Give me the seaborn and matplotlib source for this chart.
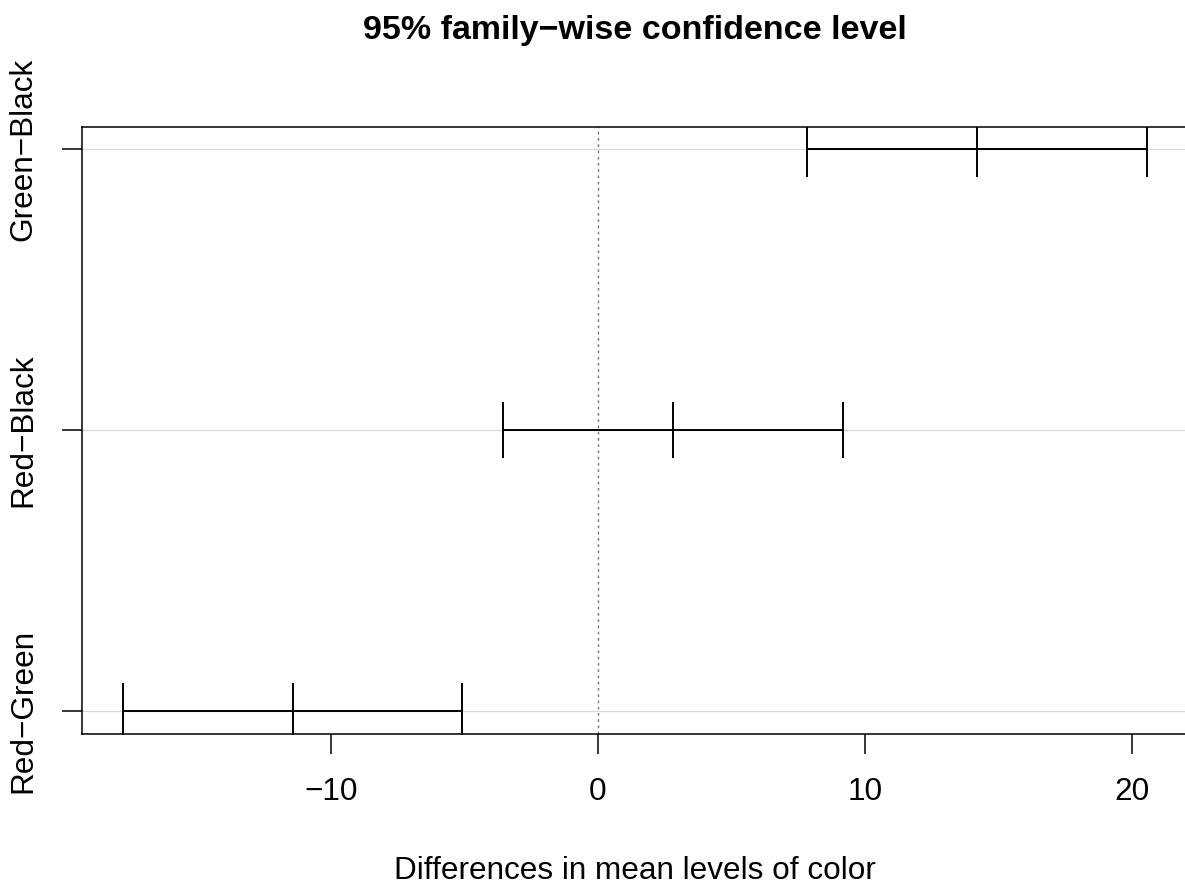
import matplotlib
matplotlib.use("Agg")
import matplotlib.pyplot as plt
import seaborn as sns
import pandas as pd
import numpy as np

# Data (TukeyHSD style)
comparisons = ["Green\u2212Black", "Red\u2212Black", "Red\u2212Green"]
diff = [14.19, 2.81, -11.42]
lwr = [7.83, -3.56, -17.79]
upr = [20.56, 9.18, -5.09]
xticks = [-10, 0, 10, 20]

title = "95% family\u2212wise confidence level"
xlabel = "Differences in mean levels of color"

sns.set_style("ticks")
plt.rcParams['font.family'] = ['Liberation Sans', 'DejaVu Sans']
plt.rcParams['text.color'] = 'black'
plt.rcParams['axes.labelcolor'] = 'black'
plt.rcParams['xtick.color'] = 'black'
plt.rcParams['ytick.color'] = 'black'

pos = list(range(len(comparisons), 0, -1))
rows = []
for c, p, l, d, u in zip(comparisons, pos, lwr, diff, upr):
    for v in (l, d, u):
        rows.append({"comp": c, "pos": p, "value": v})
df = pd.DataFrame(rows)

fig = plt.figure(figsize=(11.85, 8.84), dpi=100)
ax = fig.add_axes([82/1185, 1-733.5/884, 1105.8/1185, (733.5-126.5)/884])

# light grey gridlines at each comparison
for p in pos:
    ax.axhline(p, color="#d9d9d9", lw=0.9, zorder=0)
ax.axvline(0, color="#777777", lw=1.0, ls=(0, (2, 2.5)), zorder=1)

sns.lineplot(data=df, x="value", y="pos", units="comp", estimator=None,
             sort=False, color="black", lw=1.4, marker="|", markersize=41,
             markeredgewidth=1.4, markeredgecolor="black", ax=ax, legend=False)

rng = max(upr) - min(lwr)
ax.set_xlim(min(lwr) - 0.04*rng, max(upr) + 0.04*rng)
ax.set_ylim(min(pos) - 0.04*(max(pos)-min(pos)), max(pos) + 0.04*(max(pos)-min(pos)))

ax.set_xticks(xticks)
ax.set_xticklabels([str(t).replace("-", "\u2212") for t in xticks], fontsize=22.7)
ax.set_yticks(pos)
ax.set_yticklabels(comparisons, rotation=90, va="center", fontsize=22.7)
ax.tick_params(axis="both", direction="out", length=14.4, width=1.1, color="black",
               bottom=True, left=True, top=False, right=False)
ax.tick_params(axis="x", pad=17)
ax.tick_params(axis="y", pad=17)

for s in ax.spines.values():
    s.set_linewidth(1.1)
    s.set_color("black")

ax.set_xlabel(xlabel, fontsize=22.7, labelpad=35)
ax.set_ylabel("")
fig.text(635/1185, 1-39/884, title, ha="center", va="baseline",
         fontsize=24.5, fontweight="bold")

fig.savefig("out.png", dpi=100)
